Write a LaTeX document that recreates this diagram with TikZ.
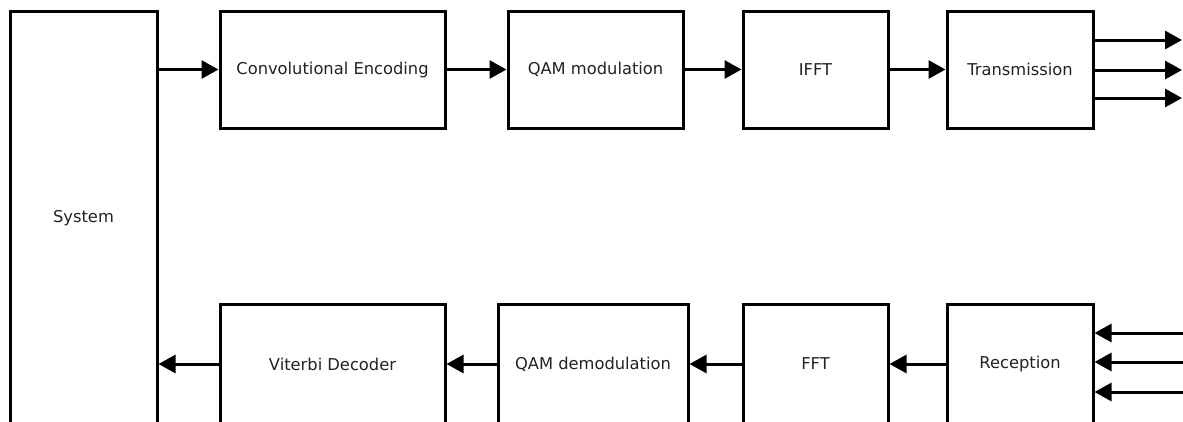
\documentclass[tikz,border=0pt]{standalone}
\usepackage{fontspec}
\setmainfont{DejaVu Sans}
\usetikzlibrary{arrows.meta}
\definecolor{labelgray}{HTML}{222222}
\tikzset{
  blk/.style={draw=black, line width=3pt, fill=white, inner sep=0pt,
    font=\fontsize{16.3}{19}\selectfont, text=labelgray},
  flow/.style={line width=3pt, -{Triangle[length=17pt,width=18pt]}},
}
\begin{document}
\begin{tikzpicture}[x=1pt,y=-1pt]
\useasboundingbox (0,0) rectangle (1183,421);
\clip (0,0) rectangle (1183,421);

% system block on the left
\node[blk, minimum width=147pt, minimum height=414pt] (sys) at (83.5,218) {System};

% transmit chain
\node[blk, minimum width=225pt, minimum height=117pt] (enc)  at (332.5,69.5) {Convolutional Encoding};
\node[blk, minimum width=175pt, minimum height=117pt] (qam)  at (595.5,69.5) {QAM modulation};
\node[blk, minimum width=145pt, minimum height=117pt] (ifft) at (815.5,69.5) {IFFT};
\node[blk, minimum width=146pt, minimum height=117pt] (tx)   at (1020,69.5) {Transmission};

% receive chain
\node[blk, minimum width=225pt, minimum height=120pt] (vit)  at (332.5,364) {Viterbi Decoder};
\node[blk, minimum width=190pt, minimum height=120pt] (qamd) at (593,364) {QAM demodulation};
\node[blk, minimum width=145pt, minimum height=120pt] (fft)  at (815.5,364) {FFT};
\node[blk, minimum width=146pt, minimum height=120pt] (rx)   at (1020,364) {Reception};

% antenna-side ends
\coordinate (o1) at (1182,40);
\coordinate (o2) at (1182,70);
\coordinate (o3) at (1182,98);
\coordinate (i1) at (1184,333);
\coordinate (i2) at (1184,362);
\coordinate (i3) at (1184,392);

% transmit arrows
\draw[flow] (sys.east |- enc.west) -- (enc.west);
\draw[flow] (enc) -- (qam);
\draw[flow] (qam) -- (ifft);
\draw[flow] (ifft) -- (tx);
\draw[flow] (tx.east |- o1) -- (o1);
\draw[flow] (tx.east |- o2) -- (o2);
\draw[flow] (tx.east |- o3) -- (o3);

% receive arrows
\draw[flow] (i1) -- (rx.east |- i1);
\draw[flow] (i2) -- (rx.east |- i2);
\draw[flow] (i3) -- (rx.east |- i3);
\draw[flow] (rx) -- (fft);
\draw[flow] (fft) -- (qamd);
\draw[flow] (qamd) -- (vit);
\draw[flow] (vit.west) -- (sys.east |- vit.west);
\end{tikzpicture}
\end{document}
